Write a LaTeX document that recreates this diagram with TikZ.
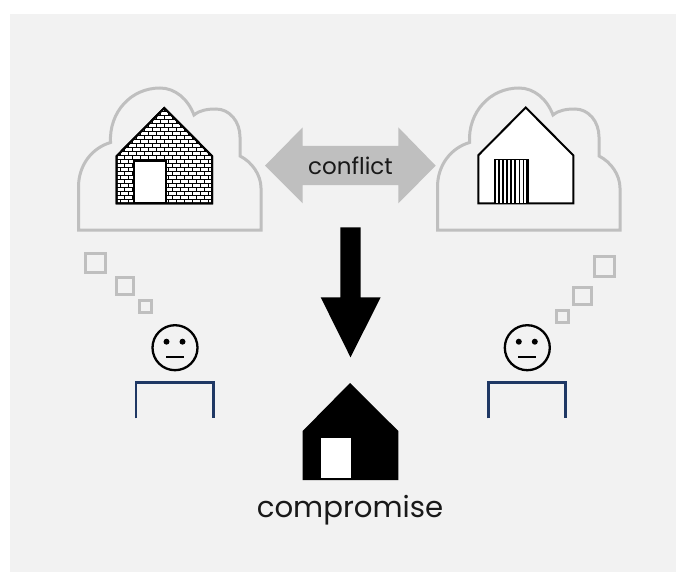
\documentclass[tikz,border=0pt]{standalone}
\usepackage{fontspec}
\setmainfont{Poppins}
\definecolor{panelgray}{HTML}{F2F2F2}
\definecolor{cloudgray}{HTML}{BFBFBF}
\definecolor{deskblue}{HTML}{1F3864}
\tikzset{
  cloudline/.style={draw=cloudgray,line width=3pt,fill=panelgray},
  bubble/.style={draw=cloudgray,line width=3pt,inner sep=0pt},
  facering/.style={circle,draw=black,line width=2.3pt,minimum size=45pt,inner sep=0pt},
  faceeye/.style={circle,fill=black,minimum size=6pt,inner sep=0pt},
  desk/.style={draw=deskblue,line width=2.6pt,line cap=butt},
  wall/.style={draw=black,line width=2pt,fill=white,line join=miter},
  brick/.style={draw=black,line width=0.95pt},
}
\begin{document}
\begin{tikzpicture}[x=1pt,y=-1pt]
      \useasboundingbox (0,0) rectangle (676,572);
      \fill[white] (0,0) rectangle (676,572);
      \fill[panelgray] (10,14) rectangle (676,572);
      % thought clouds
      \foreach \dx in {0,359} {
        \begin{scope}[xshift=\dx pt]
          \draw[cloudline] (78.5,230) -- (78.5,187)
            .. controls (78.5,165) and (92,148) .. (110.5,142.5)
            .. controls (109,112) and (131,88) .. (160,88)
            .. controls (175,88) and (188,99) .. (194,115)
            .. controls (200,110) and (208,109) .. (216,109)
            .. controls (230,109) and (240,122) .. (240,137)
            -- (240,156)
            .. controls (252,162) and (261,175) .. (261,188)
            -- (261,230) -- cycle;
        \end{scope}
      }
      % brick house
      \draw[wall] (116.7,203.3) -- (116.7,156) -- (164.3,108) -- (212,156) -- (212,203.3) -- cycle;
      \begin{scope}
        \clip (116.7,203.3) -- (116.7,156) -- (164.3,108) -- (212,156) -- (212,203.3) -- cycle;
        \foreach \row in {0,...,24} {
          \pgfmathsetmacro{\ytop}{203.5-4*\row}
          \pgfmathsetmacro{\ybot}{\ytop-4}
          \draw[brick] (110,\ytop) -- (220,\ytop);
          \pgfmathsetmacro{\xstart}{mod(\row,2)==0 ? 112.5 : 116.5}
          \foreach \col in {0,...,13} {
            \draw[brick] ({\xstart+8*\col},\ybot) -- ({\xstart+8*\col},\ytop);
          }
        }
      \end{scope}
      \draw[draw=black,line width=2pt] (116.7,203.3) -- (116.7,156) -- (164.3,108) -- (212,156) -- (212,203.3) -- cycle;
      \node[draw=black,line width=2.2pt,fill=white,inner sep=0pt,minimum width=32pt,minimum height=42pt] (brickdoor) at (150.3,182) {};
      % plain house
      \draw[wall] (478.3,203.3) -- (478.3,155.3) -- (525.7,107.5) -- (573.3,155.3) -- (573.3,203.3) -- cycle;
      \node[draw=black,line width=1.5pt,fill=white,inner sep=0pt,minimum width=34pt,minimum height=44pt] (stripedoor) at (511.7,181.3) {};
      \foreach \sx in {495,499,503,507,511,515,519.3,523.5} {
        \draw[black,line width=1.6pt] (\sx,159.3) -- (\sx,203.3);
      }
      \fill[black] (525.5,159.3) rectangle (529,203.3);
      % conflict arrow
      \fill[cloudgray] (265,165.7) -- (302.7,127.3) -- (302.7,146) -- (398.3,146) -- (398.3,127.3)
        -- (435.7,165.7) -- (398.3,203.3) -- (398.3,185) -- (302.7,185) -- (302.7,203.3) -- cycle;
      \node[font=\fontsize{23}{27}\selectfont,text=black!90] (conflict) at (350.5,165.5) {conflict};
      % down arrow
      \fill[black] (340.3,227.3) -- (360.7,227.3) -- (360.7,297.3) -- (380.7,297.3) -- (350.5,357.3)
        -- (320.7,297.3) -- (340.3,297.3) -- cycle;
      % compromise house
      \fill[black] (302.7,480) -- (302.7,431) -- (350,383) -- (398.3,431) -- (398.3,480) -- cycle;
      \fill[white] (321.3,437.7) rectangle (351.3,478.3);
      \node[font=\fontsize{29.2}{35}\selectfont,text=black!90] (compromise) at (350,510) {compromise};
      % thought bubbles left
      \node[bubble,minimum size=19.5pt] (bubbleLa) at (95.5,263) {};
      \node[bubble,minimum size=17.5pt] (bubbleLb) at (125,286) {};
      \node[bubble,minimum size=12pt] (bubbleLc) at (145,306.3) {};
      % thought bubbles right
      \node[bubble,minimum size=19.5pt] (bubbleRa) at (604.5,266.7) {};
      \node[bubble,minimum size=17.5pt] (bubbleRb) at (582.5,296) {};
      \node[bubble,minimum size=12pt] (bubbleRc) at (562,316.5) {};
      % people
      \foreach \name/\cx in {faceL/175,faceR/527.3} {
        \node[facering] (\name) at (\cx,347.7) {};
        \node[faceeye] at (\cx-8.5,341.7) {};
        \node[faceeye] at (\cx+7.5,341.7) {};
        \draw[black,line width=2.4pt] (\cx-9,357) -- (\cx+8.5,357);
      }
      \draw[desk] (136,418.3) -- (136,382.7) -- (213.3,382.7) -- (213.3,418.3);
      \draw[desk] (488.3,418.3) -- (488.3,382.7) -- (565.7,382.7) -- (565.7,418.3);
    \end{tikzpicture}
\end{document}
